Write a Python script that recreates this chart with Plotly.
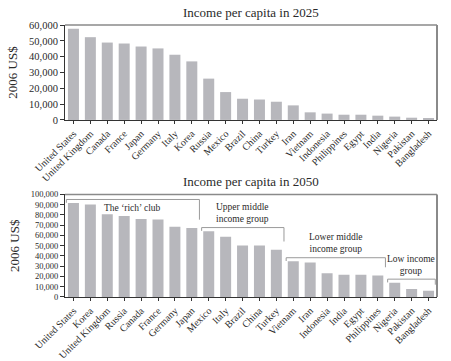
import plotly.graph_objects as go

countries_2025 = ["United States", "United Kingdom", "Canada", "France", "Japan", "Germany",
                  "Italy", "Korea", "Russia", "Mexico", "Brazil", "China", "Turkey", "Iran",
                  "Vietnam", "Indonesia", "Philippines", "Egypt", "India", "Nigeria",
                  "Pakistan", "Bangladesh"]
income_2025 = [57700, 52300, 48900, 48300, 46400, 45200, 41200, 37000, 26100, 17600,
               13400, 12900, 11500, 9200, 4800, 4000, 3300, 3300, 2700, 2100, 1400, 800]

countries_2050 = ["United States", "Korea", "United Kingdom", "Russia", "Canada", "France",
                  "Germany", "Japan", "Mexico", "Italy", "Brazil", "China", "Turkey",
                  "Vietnam", "Iran", "Indonesia", "India", "Egypt", "Philippines",
                  "Nigeria", "Pakistan", "Bangladesh"]
income_2050 = [91600, 90300, 80600, 79000, 76100, 75500, 68400, 67400, 64200, 58700,
               50300, 50300, 46100, 34800, 33600, 23200, 21600, 21600, 21000, 13900,
               7700, 6200]

# income groups (2050): label, first category index, last category index
groups = [
    ("The \u2018rich\u2019 club", 0, 7),
    ("Upper middle<br>income group", 8, 12),
    ("Lower middle<br>income group", 13, 18),
    ("Low income<br>group", 19, 21),
]

FONT = "Liberation Serif"
BAR = "#b7b7bc"
TXT = "#2a2a2a"

fig = go.Figure()
fig.add_trace(go.Bar(x=list(range(len(countries_2025))), y=income_2025,
                     marker=dict(color=BAR, line=dict(width=0)),
                     xaxis="x", yaxis="y", showlegend=False))
fig.add_trace(go.Bar(x=list(range(len(countries_2050))), y=income_2050,
                     marker=dict(color=BAR, line=dict(width=0)),
                     xaxis="x2", yaxis="y2", showlegend=False))

common_x = dict(showline=True, linecolor="#333", linewidth=1, ticks="outside",
                ticklen=3, tickcolor="#333", tickangle=-45, automargin=False,
                tickfont=dict(family=FONT, size=10, color=TXT),
                range=[-0.5, len(countries_2025) - 0.5], showgrid=False, zeroline=False)
common_y = dict(showline=True, linecolor="#333", linewidth=1, ticks="outside",
                ticklen=4, tickcolor="#333", tickformat=",d", dtick=10000,
                automargin=False, showgrid=False, zeroline=False,
                title=dict(text="2006 US$", font=dict(family=FONT, size=13, color=TXT),
                           standoff=8))

fig.update_layout(
    width=451, height=361,
    margin=dict(l=65, r=14, t=25, b=64),
    paper_bgcolor="white", plot_bgcolor="white",
    bargap=0.35,
    xaxis=dict(common_x, domain=[0, 1], anchor="y",
               tickmode="array", tickvals=list(range(len(countries_2025))),
               ticktext=countries_2025),
    yaxis=dict(common_y, domain=[0.651, 1], anchor="x", range=[0, 60000],
               tickfont=dict(family=FONT, size=10.5, color=TXT)),
    xaxis2=dict(common_x, domain=[0, 1], anchor="y2",
                tickmode="array", tickvals=list(range(len(countries_2050))),
                ticktext=countries_2050),
    yaxis2=dict(common_y, domain=[0, 0.377], anchor="x2", range=[0, 100000],
                tickfont=dict(family=FONT, size=8.5, color=TXT)),
)

fig.update_xaxes(tickson="boundaries")

shapes = []
for xr, yr in (("x", "y"), ("x2", "y2")):
    # top and right frame lines
    shapes.append(dict(type="line", xref=f"{xr} domain", yref=f"{yr} domain",
                       x0=0, x1=1, y0=1, y1=1, line=dict(color="#8a8a8a", width=1.5)))
    shapes.append(dict(type="line", xref=f"{xr} domain", yref=f"{yr} domain",
                       x0=1, x1=1, y0=0, y1=1, line=dict(color="#8a8a8a", width=2)))

annotations = [
    dict(text="Income per capita in 2025", xref="x domain", yref="y domain",
         x=0.5, y=1.0, yshift=3, xanchor="center", yanchor="bottom", showarrow=False,
         font=dict(family=FONT, size=13, color=TXT)),
    dict(text="Income per capita in 2050", xref="x2 domain", yref="y2 domain",
         x=0.5, y=1.0, yshift=3, xanchor="center", yanchor="bottom", showarrow=False,
         font=dict(family=FONT, size=13, color=TXT)),
]

# brackets for income groups
for label, i0, i1 in groups:
    vals = income_2050[i0:i1 + 1]
    top = max(vals)
    x0 = i0 - 0.42 if i0 > 0 else -0.42
    x1 = i1 + 0.45 if i1 < len(countries_2050) - 1 else i1 + 0.4
    ytop = top + 3500
    left_drop = ytop - 3200
    right_drop = income_2050[i1] + 8000 if i1 < 21 else income_2050[i1] + 5800
    shapes.append(dict(type="path", xref="x2", yref="y2",
                       path=f"M {x0},{left_drop} L {x0},{ytop} L {x1},{ytop} L {x1},{right_drop}",
                       line=dict(color="#9a9a9a", width=1)))
    annotations.append(dict(text=label, xref="x2", yref="y2",
                            x=(x0 + x1) / 2 if i0 > 0 else 3.5,
                            y=ytop - 1000 if i0 == 0 else ytop + 1200,
                            xanchor="center",
                            yanchor="top" if i0 == 0 else "bottom",
                            showarrow=False, align="center",
                            font=dict(family=FONT, size=9.5, color=TXT)))

fig.update_layout(shapes=shapes, annotations=annotations)
fig.write_html("out.html", config={"displayModeBar": False},
               post_script="document.body.style.margin='0';document.body.style.padding='0';")
